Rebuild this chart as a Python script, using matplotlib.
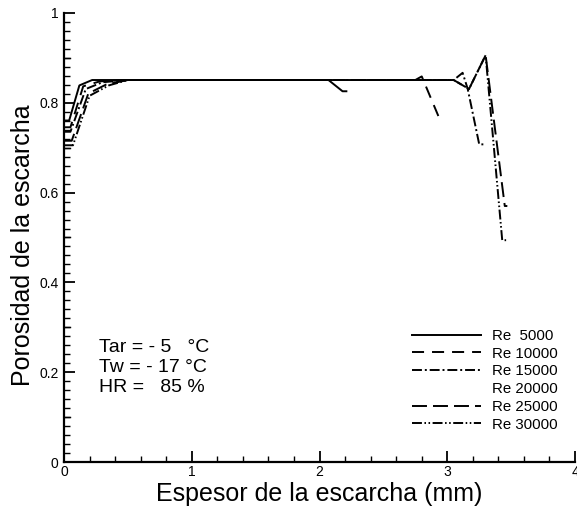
"""Porosidad de la escarcha frente al espesor, para varios Re."""

import matplotlib

matplotlib.use("Agg")

import matplotlib.pyplot as plt
from matplotlib.ticker import FuncFormatter, MultipleLocator

plt.rcParams["font.family"] = ["Liberation Sans", "DejaVu Sans"]

# Datos (espesor en mm, porosidad)
re_labels = ["Re  5000", "Re 10000", "Re 15000", "Re 20000", "Re 25000", "Re 30000"]

x_5000 = [0.0, 0.04, 0.12, 0.22, 0.40, 2.07, 2.18, 2.21]
y_5000 = [0.760, 0.760, 0.838, 0.850, 0.850, 0.850, 0.825, 0.825]

x_10000 = [0.0, 0.05, 0.15, 0.28, 0.50, 2.75, 2.80, 2.93]
y_10000 = [0.745, 0.745, 0.836, 0.847, 0.850, 0.850, 0.858, 0.770]

x_15000 = [0.0, 0.05, 0.17, 0.30, 0.50, 3.05, 3.12, 3.16, 3.25, 3.29]
y_15000 = [0.735, 0.735, 0.830, 0.845, 0.850, 0.850, 0.866, 0.830, 0.707, 0.707]

x_20000 = [0.0, 0.06, 0.18, 0.32, 0.50, 3.05, 3.17, 3.30, 3.43]
y_20000 = [0.725, 0.725, 0.825, 0.842, 0.850, 0.850, 0.830, 0.905, 0.640]

x_25000 = [0.0, 0.06, 0.19, 0.33, 0.50, 3.05, 3.17, 3.30, 3.45, 3.47]
y_25000 = [0.715, 0.715, 0.820, 0.840, 0.850, 0.850, 0.830, 0.905, 0.570, 0.570]

x_30000 = [0.0, 0.07, 0.20, 0.35, 0.50, 3.05, 3.17, 3.30, 3.43, 3.48]
y_30000 = [0.705, 0.705, 0.815, 0.838, 0.850, 0.850, 0.830, 0.905, 0.494, 0.494]

series_x = [x_5000, x_10000, x_15000, x_20000, x_25000, x_30000]
series_y = [y_5000, y_10000, y_15000, y_20000, y_25000, y_30000]

mid_y_ticks = [0.1, 0.3, 0.5, 0.7, 0.9]

# Estilos de línea (el de Re 20000 no se ve en la figura original)
LINE_STYLES = [
    "-",
    (0, (6.2, 4.1)),
    (0, (5.1, 1.5, 1.0, 1.5)),
    "None",
    (0, (7.7, 3.1)),
    (0, (5.1, 1.3, 0.8, 1.3, 0.8, 1.3)),
]

fig = plt.figure(figsize=(5.77, 5.09), dpi=100)
ax = fig.add_axes([0.111, 0.0914, 0.8856, 0.884])

for xs, ys, style, label in zip(series_x, series_y, LINE_STYLES, re_labels):
    ax.plot(xs, ys, color="black", linewidth=1.4, linestyle=style, label=label)

ax.spines["top"].set_visible(False)
ax.spines["right"].set_visible(False)
ax.spines["left"].set_linewidth(1.6)
ax.spines["bottom"].set_linewidth(1.6)

ax.xaxis.set_major_locator(MultipleLocator(1))
ax.xaxis.set_minor_locator(MultipleLocator(0.2))
ax.yaxis.set_major_locator(MultipleLocator(0.2))
ax.yaxis.set_minor_locator(MultipleLocator(0.02))
ax.xaxis.set_major_formatter(FuncFormatter(lambda v, _: f"{v:g}"))
ax.yaxis.set_major_formatter(FuncFormatter(lambda v, _: f"{v:g}"))

ax.tick_params(which="major", direction="in", length=8, width=1.3, labelsize=10)
ax.tick_params(axis="x", which="major", pad=2)
ax.tick_params(axis="y", which="major", pad=4)
ax.tick_params(which="minor", direction="in", length=4, width=1.0)

# Marcas intermedias en 0.1 del eje y
for value in mid_y_ticks:
    ax.plot([0, 0.012], [value, value], color="black", linewidth=1.0,
            transform=ax.get_yaxis_transform(), clip_on=False)

ax.set_xlim(0, 4)
ax.set_ylim(0, 1)

ax.set_xlabel("Espesor de la escarcha (mm)", fontsize=18, labelpad=2)
ax.set_ylabel("Porosidad de la escarcha", fontsize=18, labelpad=3)
ax.yaxis.label.set_y(0.482)

ax.text(0.27, 0.211, "Tar = - 5   °C\nTw = - 17 °C\nHR =   85 %",
        fontsize=14, ha="left", va="center", linespacing=1.2)

fig.legend(
    loc="upper left",
    bbox_to_anchor=(0.714, 0.354),
    frameon=False,
    fontsize=10.8,
    handlelength=4.6,
    handletextpad=0.73,
    labelspacing=0.25,
    borderpad=0,
    borderaxespad=0,
)

fig.savefig("out.png", dpi=100)
